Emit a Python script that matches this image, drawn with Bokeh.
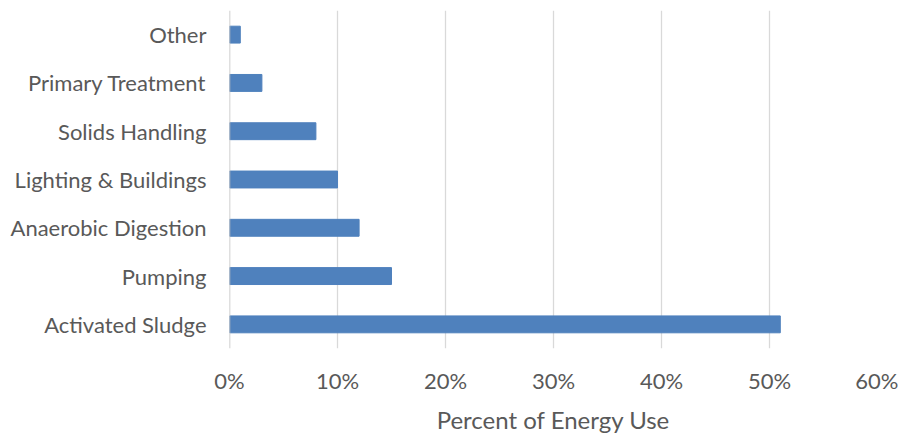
from bokeh.plotting import figure
from bokeh.models import PrintfTickFormatter, Span, FixedTicker
from bokeh.embed import file_html
from bokeh.resources import INLINE

categories = ["Activated Sludge", "Pumping", "Anaerobic Digestion", "Lighting & Buildings",
              "Solids Handling", "Primary Treatment", "Other"]
values = [51, 15, 12, 10, 8, 3, 1]
x_ticks = [0, 10, 20, 30, 40, 50, 60]

FONT = "Lato"
TXT = "#595959"

p = figure(width=898, height=436, y_range=categories, x_range=(0, 60),
           output_backend="svg", toolbar_location=None,
           min_border_left=229, min_border_right=21, min_border_top=10, min_border_bottom=85)
p.hbar(y=categories, right=values, left=0, height=0.35, color="#4F81BD")

p.outline_line_color = None
p.ygrid.grid_line_color = None
p.xgrid.grid_line_color = "#D9D9D9"
p.xgrid.grid_line_width = 1.3
p.xaxis.ticker = FixedTicker(ticks=x_ticks)
p.xaxis.formatter = PrintfTickFormatter(format="%d%%")
p.add_layout(Span(location=0, dimension="height", line_color="#BFBFBF", line_width=1.5))

for ax in (p.xaxis, p.yaxis):
    ax.axis_line_color = None
    ax.major_tick_line_color = None
    ax.minor_tick_line_color = None
    ax.major_label_text_font = FONT
    ax.major_label_text_color = TXT
    ax.major_label_text_font_size = "22px"

p.yaxis.major_label_standoff = 17
p.xaxis.major_label_standoff = 12
p.xaxis.axis_label = "Percent of Energy Use"
p.xaxis.axis_label_text_font = FONT
p.xaxis.axis_label_text_font_style = "normal"
p.xaxis.axis_label_text_color = TXT
p.xaxis.axis_label_text_font_size = "24px"
p.xaxis.axis_label_standoff = 8

open("out.html", "w").write(file_html(p, INLINE))
